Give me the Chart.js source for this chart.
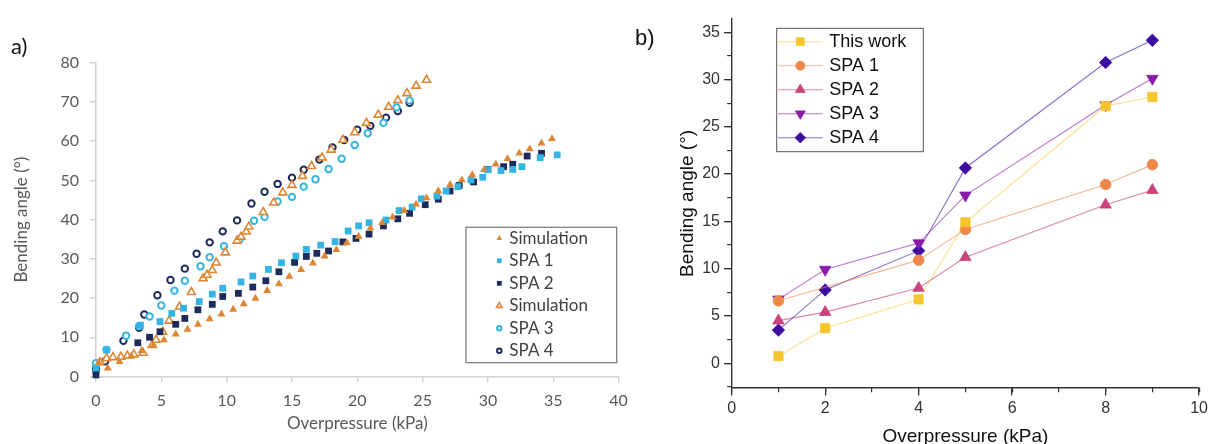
<!DOCTYPE html>
<html lang="en">
<head>
  <meta charset="UTF-8">
  <title>Bending angle vs overpressure</title>
  <script src="https://cdn.jsdelivr.net/npm/chart.js@4/dist/chart.umd.min.js"></script>
  <style>
    body { margin: 0; background: #fff; width: 1211px; height: 444px; overflow: hidden; position: relative; }
    canvas { position: absolute; top: 0; }
    #chart-a { left: 0; }
    #chart-b { left: 630px; }
    .panel-tag { position: absolute; font-size: 22px; color: #111; }
    #tag-a { left: 11px; top: 32px; font-family: Lato, sans-serif; }
    #tag-b { left: 635px; top: 25px; font-family: "Liberation Sans", Arial, sans-serif; }
  </style>
</head>
<body>
  <canvas id="chart-a" width="640" height="444"></canvas>
  <canvas id="chart-b" width="581" height="444"></canvas>
  <div class="panel-tag" id="tag-a">a)</div>
  <div class="panel-tag" id="tag-b">b)</div>

  <script>
    // ---- panel a: values ----
    const simFilledX = [0.2, 0.9, 1.8, 2.7, 3.5, 4.4, 5.2, 6.1, 7.0, 7.8, 8.7, 9.6, 10.5, 11.3, 12.2, 13.1, 14.0, 14.8, 15.7, 16.6, 17.5, 18.4, 19.2, 20.1, 21.0, 21.9, 22.7, 23.6, 24.5, 25.3, 26.2, 27.1, 28.0, 28.8, 29.7, 30.6, 31.5, 32.4, 33.2, 34.1, 34.9];
    const simFilledY = [3.5, 2.1, 3.8, 5.2, 6.6, 8.0, 9.3, 10.8, 12.0, 13.3, 14.7, 15.9, 17.1, 18.5, 19.9, 21.9, 23.6, 25.5, 27.2, 28.9, 30.7, 32.3, 34.1, 35.7, 37.8, 39.2, 40.6, 42.3, 43.9, 45.5, 47.3, 48.9, 50.1, 51.4, 52.7, 54.1, 55.5, 56.9, 58.0, 59.5, 60.6];

    const spa1X = [0, 0.8, 3.4, 4.9, 5.8, 6.7, 7.9, 8.9, 9.7, 11.1, 12.0, 13.2, 14.2, 15.3, 16.1, 17.2, 18.3, 19.3, 20.1, 20.9, 22.2, 23.2, 24.2, 24.9, 26.1, 26.8, 27.7, 28.7, 29.6, 30.0, 31.0, 31.9, 32.6, 34.0, 35.3];
    const spa1Y = [2.2, 6.8, 13.1, 14.0, 16.1, 17.4, 19.1, 21.0, 22.5, 24.1, 25.6, 27.3, 29.0, 30.7, 32.4, 33.5, 34.4, 37.1, 38.4, 39.2, 39.9, 42.3, 43.2, 45.3, 46.0, 47.3, 48.4, 50.1, 50.8, 52.7, 52.5, 52.8, 53.5, 55.8, 56.5];

    const spa2X = [0, 0, 3.2, 4.1, 4.9, 6.1, 6.8, 7.8, 8.9, 9.7, 10.9, 12.0, 13.0, 14.0, 15.2, 16.1, 16.9, 17.8, 18.9, 19.9, 20.9, 22.0, 23.1, 24.0, 25.2, 26.2, 27.1, 27.8, 28.9, 30.0, 31.2, 31.9, 33.0, 34.1];
    const spa2Y = [0.4, 1.5, 8.6, 10.0, 11.4, 13.3, 14.8, 17.0, 18.4, 20.4, 21.2, 22.8, 24.4, 26.7, 29.1, 30.6, 31.4, 32.0, 34.3, 35.2, 36.3, 38.4, 40.2, 41.6, 43.8, 45.2, 47.3, 48.7, 49.6, 52.8, 53.5, 54.1, 56.2, 56.9];

    const simOpenX = [0.3, 0.8, 1.3, 1.9, 2.4, 2.9, 3.6, 4.3, 4.6, 5.1, 5.6, 6.4, 7.3, 8.2, 8.5, 8.9, 9.2, 9.9, 10.8, 11.1, 11.5, 11.7, 12.8, 13.6, 14.3, 15.0, 15.8, 16.5, 17.3, 18.0, 18.9, 19.8, 20.7, 21.6, 22.4, 23.1, 23.8, 24.5, 25.3];
    const simOpenY = [3.6, 4.6, 4.9, 5.0, 5.3, 5.6, 6.0, 8.0, 9.3, 11.4, 14.2, 17.8, 21.5, 25.0, 25.9, 27.1, 29.0, 31.6, 34.6, 35.6, 36.9, 38.2, 41.9, 44.3, 46.9, 48.8, 51.1, 53.6, 55.8, 57.8, 60.3, 62.2, 64.6, 66.7, 68.7, 70.4, 72.2, 74.1, 75.6];

    const spa3X = [0, 0.8, 2.3, 3.3, 4.1, 5.0, 6.0, 6.8, 8.0, 8.7, 9.8, 11.0, 12.1, 12.9, 13.9, 15.0, 15.9, 16.8, 17.8, 18.8, 19.8, 20.8, 22.0, 23.0, 24.0];
    const spa3Y = [3.4, 6.8, 10.4, 12.8, 15.3, 18.1, 21.9, 24.4, 28.1, 30.4, 33.2, 35.0, 39.7, 40.7, 44.6, 45.8, 48.4, 50.3, 52.9, 55.5, 59.0, 62.0, 64.7, 68.6, 70.4];

    const spa4X = [0, 0.7, 2.1, 3.3, 3.7, 4.7, 5.7, 6.8, 7.7, 8.7, 9.7, 10.8, 11.9, 12.9, 13.9, 15.0, 15.9, 17.1, 18.1, 19.0, 20.0, 21.0, 22.2, 23.1, 24.0];
    const spa4Y = [2.0, 3.9, 9.1, 12.4, 15.8, 20.7, 24.6, 27.5, 31.3, 34.2, 37.0, 39.8, 44.1, 47.1, 49.1, 50.7, 52.7, 55.3, 58.4, 60.3, 62.9, 63.9, 66.0, 67.7, 69.8];

    // ---- panel b ----
    const pressureB = [1, 2, 4, 5, 8, 9];
    const thisWork = [0.75, 3.7, 6.75, 14.9, 27.2, 28.15];
    const spa1B = [6.6, null, 10.9, 14.15, 18.9, 21.0];
    const spa2B = [4.5, 5.4, 7.95, 11.2, 16.75, 18.3];
    const spa3B = [6.75, 9.9, 12.7, 17.75, 27.3, 30.1];
    const spa4B = [3.5, 7.75, 11.9, 20.65, 31.8, 34.15];

    const toPoints = (xs, ys) => xs.map((x, i) => ({ x: x, y: ys[i] })).filter(p => p.y !== null);

    // boxed legend drawn inside the plot, using each dataset's own marker style
    const boxLegend = {
      id: 'boxLegend',
      afterDatasetsDraw(chart, args, o) {
        const ctx = chart.ctx;
        ctx.save();
        ctx.fillStyle = '#fff';
        ctx.fillRect(o.left, o.top, o.width, o.height);
        ctx.lineWidth = o.borderWidth;
        ctx.strokeStyle = o.borderColor;
        ctx.strokeRect(o.left, o.top, o.width, o.height);
        ctx.font = o.font;
        ctx.textBaseline = 'middle';
        ctx.textAlign = 'left';
        chart.data.datasets.forEach((ds, i) => {
          const y = o.top + o.first + i * o.gap;
          if (o.lineTo) {
            ctx.strokeStyle = ds.borderColor;
            ctx.lineWidth = ds.borderWidth;
            ctx.beginPath();
            ctx.moveTo(o.lineFrom, y);
            ctx.lineTo(o.lineTo, y);
            ctx.stroke();
          }
          ctx.fillStyle = ds.pointBackgroundColor;
          ctx.strokeStyle = ds.pointBorderColor;
          ctx.lineWidth = ds.pointBorderWidth;
          Chart.helpers.drawPoint(ctx, {
            pointStyle: ds.pointStyle,
            rotation: ds.pointRotation || 0,
            radius: ds.pointRadius * o.markerScale,
            borderWidth: ds.pointBorderWidth
          }, o.markerX, y);
          ctx.fillStyle = o.color;
          ctx.fillText(ds.label, o.textX, y);
        });
        ctx.restore();
      }
    };

    // ---------- chart a ----------
    const orange = '#DD8633';
    const lightBlue = '#35B4E4';
    const navy = '#1C2B5A';
    const axisGrey = '#D2D2D2';
    const textGrey = '#595959';

    new Chart(document.getElementById('chart-a'), {
      type: 'scatter',
      data: {
        datasets: [
          { label: 'Simulation', data: toPoints(simFilledX, simFilledY), pointStyle: 'triangle', pointRadius: 4.6,
            pointBackgroundColor: orange, pointBorderColor: orange, pointBorderWidth: 0, clip: false },
          { label: 'SPA 1', data: toPoints(spa1X, spa1Y), pointStyle: 'rect', pointRadius: 4.8,
            pointBackgroundColor: lightBlue, pointBorderColor: lightBlue, pointBorderWidth: 0, clip: false },
          { label: 'SPA 2', data: toPoints(spa2X, spa2Y), pointStyle: 'rect', pointRadius: 4.8,
            pointBackgroundColor: navy, pointBorderColor: navy, pointBorderWidth: 0, clip: false },
          { label: 'Simulation', data: toPoints(simOpenX, simOpenY), pointStyle: 'triangle', pointRadius: 4.6,
            pointBackgroundColor: '#fff', pointBorderColor: orange, pointBorderWidth: 1.6, clip: false },
          { label: 'SPA 3', data: toPoints(spa3X, spa3Y), pointStyle: 'circle', pointRadius: 3.2,
            pointBackgroundColor: '#fff', pointBorderColor: lightBlue, pointBorderWidth: 2, clip: false },
          { label: 'SPA 4', data: toPoints(spa4X, spa4Y), pointStyle: 'circle', pointRadius: 3.2,
            pointBackgroundColor: '#fff', pointBorderColor: navy, pointBorderWidth: 2, clip: false }
        ]
      },
      options: {
        responsive: false,
        animation: false,
        layout: { padding: { top: 62.7, right: 21.4, left: 0, bottom: 0 } },
        plugins: {
          legend: { display: false },
          tooltip: { enabled: false },
          boxLegend: {
            left: 466, top: 227.3, width: 150.7, height: 135.4,
            first: 11, gap: 22.5, markerX: 499.3, textX: 509.3, markerScale: 0.7,
            font: '17px Lato', color: '#404040', borderColor: '#7F7F7F', borderWidth: 1.3
          }
        },
        scales: {
          x: {
            type: 'linear', min: 0, max: 40,
            ticks: { stepSize: 5, color: textGrey, font: { family: 'Lato', size: 16 }, padding: 9 },
            grid: { drawOnChartArea: false, tickLength: 6, color: axisGrey, lineWidth: 1.5 },
            border: { color: axisGrey, width: 1.5 },
            title: { display: true, text: 'Overpressure (kPa)', color: textGrey,
                     font: { family: 'Lato', size: 17, lineHeight: 1 }, padding: { bottom: 11.5 } },
            afterFit: s => { s.height = 67.5; }
          },
          y: {
            type: 'linear', min: 0, max: 80,
            ticks: { stepSize: 10, color: textGrey, font: { family: 'Lato', size: 16 }, padding: 11 },
            grid: { drawOnChartArea: false, tickLength: 6, color: axisGrey, lineWidth: 1.5 },
            border: { color: axisGrey, width: 1.5 },
            title: { display: true, text: 'Bending angle (°)', color: textGrey,
                     font: { family: 'Lato', size: 17, lineHeight: 1 }, padding: { top: 13.5 } },
            afterFit: s => { s.width = 96; }
          }
        }
      },
      plugins: [boxLegend]
    });

    // ---------- chart b ----------
    const yellow = '#F8C42B';
    const coral = '#F0874A';
    const pink = '#CA437A';
    const purple = '#8A1BA8';
    const indigo = '#3C0CA0';
    const dark = '#333333';

    const lineSet = (label, ys, color, lineColor, style, radius, rotation) => ({
      label: label, data: toPoints(pressureB, ys), showLine: true,
      borderColor: lineColor, borderWidth: 1.1,
      pointStyle: style, pointRadius: radius, pointRotation: rotation || 0,
      pointBackgroundColor: color, pointBorderColor: color, pointBorderWidth: 0.8, clip: false
    });

    new Chart(document.getElementById('chart-b'), {
      type: 'scatter',
      data: {
        datasets: [
          lineSet('This work', thisWork, yellow, 'rgba(248,196,43,0.55)', 'rect', 6.5),
          lineSet('SPA 1', spa1B, coral, 'rgba(240,135,74,0.6)', 'circle', 5.3),
          lineSet('SPA 2', spa2B, pink, 'rgba(202,67,122,0.65)', 'triangle', 6.6),
          lineSet('SPA 3', spa3B, purple, 'rgba(138,27,168,0.6)', 'triangle', 6.6, 180),
          lineSet('SPA 4', spa4B, indigo, 'rgba(60,12,160,0.6)', 'rectRot', 6.2)
        ]
      },
      options: {
        responsive: false,
        animation: false,
        layout: { padding: { top: 19, right: 11.7, left: 0, bottom: 0 } },
        plugins: {
          legend: { display: false },
          tooltip: { enabled: false },
          boxLegend: {
            left: 146.7, top: 28.3, width: 146.6, height: 123.4,
            first: 13.4, gap: 24, lineFrom: 148, lineTo: 192.7, markerX: 170.3, textX: 199.3, markerScale: 0.85,
            font: '18px "Liberation Sans", Arial', color: '#111', borderColor: '#555', borderWidth: 1
          }
        },
        scales: {
          x: {
            type: 'linear', min: 0, max: 10, weight: 1,
            ticks: { stepSize: 2, color: dark, font: { family: 'Liberation Sans', size: 16 }, padding: 3, includeBounds: false },
            grid: { drawOnChartArea: false, tickLength: 7.7, color: dark, lineWidth: 1.3 },
            border: { color: dark, width: 1.4 },
            title: { display: true, text: 'Overpressure (kPa)', color: '#111',
                     font: { family: 'Liberation Sans', size: 19, lineHeight: 1 }, padding: { bottom: -2.3 } },
            afterFit: s => { s.height = 56.2; }
          },
          xMinor: {
            type: 'linear', position: 'bottom', min: 0, max: 10, weight: 0,
            ticks: { stepSize: 1, display: false, includeBounds: false },
            grid: { drawOnChartArea: false, tickLength: 4.5, color: dark, lineWidth: 1.2 },
            border: { display: false },
            afterFit: s => { s.height = 0; }
          },
          y: {
            type: 'linear', min: -2.6, max: 36.4, weight: 1,
            ticks: { stepSize: 5, color: dark, font: { family: 'Liberation Sans', size: 16 }, padding: 4, includeBounds: false },
            grid: { drawOnChartArea: false, tickLength: 7.7, color: dark, lineWidth: 1.3 },
            border: { color: dark, width: 1.4 },
            title: { display: true, text: 'Bending angle (°)', color: '#111',
                     font: { family: 'Liberation Sans', size: 19, lineHeight: 1 }, padding: { top: 48.5 } },
            afterFit: s => { s.width = 101.7; }
          },
          yMinor: {
            type: 'linear', position: 'left', min: -2.6, max: 36.4, weight: 0,
            ticks: { stepSize: 2.5, display: false, includeBounds: false },
            grid: { drawOnChartArea: false, tickLength: 4.5, color: dark, lineWidth: 1.2 },
            border: { display: false },
            afterFit: s => { s.width = 0; }
          }
        }
      },
      plugins: [boxLegend]
    });
  </script>
</body>
</html>
